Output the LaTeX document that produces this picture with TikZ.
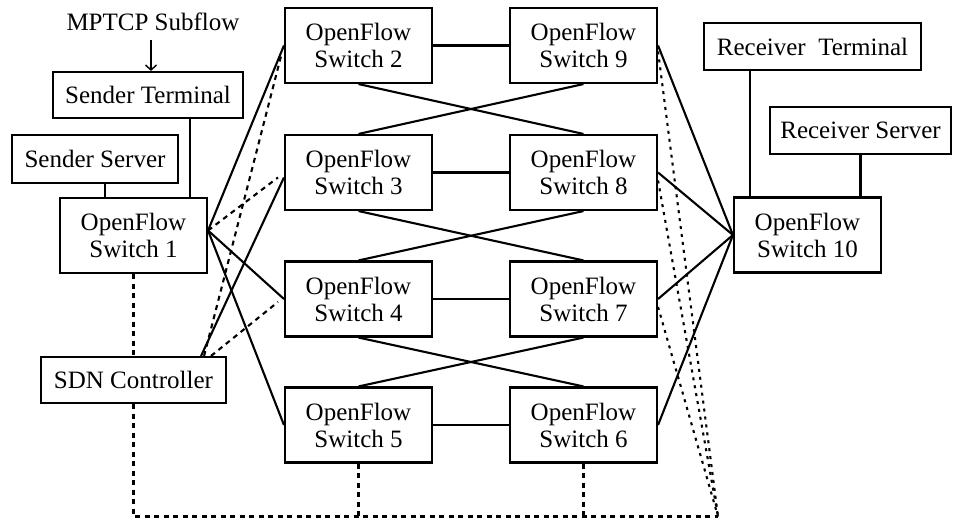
\documentclass[tikz,border=0pt]{standalone}
\usepackage{fontspec}
\setmainfont{Liberation Serif}
\newfontfamily\diagfont{Liberation Serif}
\usetikzlibrary{calc,arrows.meta}
\begin{document}
\begin{tikzpicture}[x=1pt,y=-1pt, line width=2.1pt,
 box/.style={draw, rectangle, inner sep=0pt, align=center, font=\diagfont\fontsize{25pt}{27pt}\selectfont},
 sw/.style={box, minimum width=147pt, minimum height=75pt},
 ctl/.style={dash pattern=on 5pt off 4.5pt},
 ctlr/.style={dash pattern=on 3pt off 5pt}]
\useasboundingbox (0,0) rectangle (953,518);
% switches
\node[sw] (S1) at (133.5,235.5) {OpenFlow\\Switch 1};
\node[sw] (S2) at (358.5,45.5) {OpenFlow\\Switch 2};
\node[sw] (S3) at (358.5,172.5) {OpenFlow\\Switch 3};
\node[sw] (S4) at (358.5,299) {OpenFlow\\Switch 4};
\node[sw] (S5) at (358.5,425) {OpenFlow\\Switch 5};
\node[sw] (S9) at (583.5,45.5) {OpenFlow\\Switch 9};
\node[sw] (S8) at (583.5,172.5) {OpenFlow\\Switch 8};
\node[sw] (S7) at (583.5,299) {OpenFlow\\Switch 7};
\node[sw] (S6) at (583.5,425) {OpenFlow\\Switch 6};
\node[sw] (S10) at (807.5,235) {OpenFlow\\Switch 10};
% terminals
\node[box, minimum width=190pt, minimum height=46pt] (ST) at (148,95) {Sender Terminal};
\node[box, minimum width=166pt, minimum height=48pt] (SS) at (95,159) {Sender Server};
\node[box, minimum width=185pt, minimum height=46pt] (SDN) at (133.5,380) {SDN Controller};
\node[box, minimum width=217pt, minimum height=47pt] (RT) at (812.5,46.5) {Receiver\ \ Terminal};
\node[box, minimum width=181pt, minimum height=47pt] (RS) at (860.5,130.5) {Receiver Server};
\node[font=\diagfont\fontsize{25pt}{27pt}\selectfont, inner sep=0pt] (MP) at (153,22) {MPTCP Subflow};
\coordinate (A0) at (151,40);
\draw[-{Straight Barb[length=5pt,width=11pt]}, line width=1.4pt] (A0) -- (A0 |- ST.north);
% host links
\coordinate (t1) at ([xshift=42pt]ST.south);
\draw (t1) -- (t1 |- S1.north);
\coordinate (t2) at ([xshift=10pt]SS.south);
\draw (t2) -- (t2 |- S1.north);
\coordinate (t3) at ([xshift=-62.5pt]RT.south);
\draw (t3) -- (t3 |- S10.north);
\coordinate (t4) at (RS.south);
\draw (t4) -- (t4 |- S10.north);
% middle mesh
\draw (S2) -- (S9);
\draw (S3) -- (S8);
\draw (S4) -- (S7);
\draw (S5) -- (S6);
\draw (S2.south) -- (S8.north);
\draw (S9.south) -- (S3.north);
\draw (S3.south) -- (S7.north);
\draw (S8.south) -- (S4.north);
\draw (S4.south) -- (S6.north);
\draw (S7.south) -- (S5.north);
% left side
\coordinate (P1) at ([yshift=5pt]S1.east);
\draw (P1) -- (S2.west);
\draw (P1) -- (S4.west);
\draw (P1) -- (S5.west);
\draw[ctl] (P1) -- ([xshift=-6pt,yshift=-5pt]S3.west);
\coordinate (C1) at ($(SDN.north east)+(-26,0)$);
\coordinate (C2) at ($(SDN.north east)+(-23,0)$);
\coordinate (C3) at ($(SDN.north east)+(-16,0)$);
\draw (C1) -- ([yshift=-5pt]S3.west);
\draw[ctl] (C2) -- ([xshift=-2pt,yshift=-7pt]S2.west);
\draw[ctl] (C3) -- ([xshift=-6pt,yshift=-3pt]S4.west);
% right side
\draw (S9.east) -- (S10.west);
\draw (S8.east) -- (S10.west);
\draw (S7.east) -- (S10.west);
\draw (S6.east) -- (S10.west);
% control bus
\coordinate (BL) at (133.5,516.5);
\coordinate (BR) at (718,516.5);
\draw[ctl] (S1.south) -- (SDN.north);
\draw[ctl] (SDN.south) -- (BL) -- (BR);
\draw[ctl] (S5.south) -- (S5.south |- BL);
\draw[ctl] (S6.south) -- (S6.south |- BL);
\draw[ctlr] ([yshift=-6pt]S9.east) -- (BR);
\draw[ctlr] ([yshift=-8pt]S8.east) -- (BR);
\draw[ctlr] ([yshift=-8pt]S7.east) -- (BR);
\end{tikzpicture}
\end{document}
